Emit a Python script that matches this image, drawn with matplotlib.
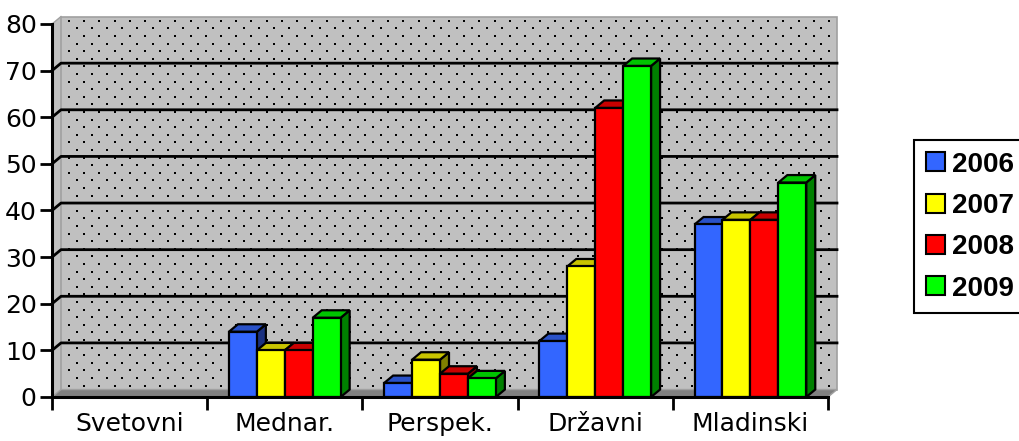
import numpy as np
import matplotlib
matplotlib.use('Agg')
from matplotlib import pyplot as plt
from matplotlib.patches import Polygon, Rectangle, Patch

categories = ['Svetovni', 'Mednar.', 'Perspek.', 'Državni', 'Mladinski']
years = ['2006', '2007', '2008', '2009']
v2006 = [0, 14, 3, 12, 37]
v2007 = [0, 10, 8, 28, 38]
v2008 = [0, 10, 5, 62, 38]
v2009 = [0, 17, 4, 71, 46]
series = [v2006, v2007, v2008, v2009]

# front, top, side shades
front = ['#3366ff', '#ffff00', '#ff0000', '#00ff00']
top = ['#2a52c8', '#c8c400', '#c80000', '#00c400']
side = ['#1a3080', '#808000', '#800000', '#008000']

ymax = 80
ncat = len(categories)
dx, dy = 0.058, 1.6   # depth of the 3d box in data units
bw = 0.18             # bar width in category units

fig = plt.figure(figsize=(10.2, 4.41), dpi=100)
ax = fig.add_axes([52/1020, 44/441, 776/1020, 373/441])
ax.set_xlim(0, ncat)
ax.set_ylim(0, ymax)

# walls and floor
ax.add_patch(Polygon([(0, 0), (dx, dy), (dx, ymax+dy), (0, ymax)], closed=True,
                     facecolor='#c0c0c0', edgecolor='none', clip_on=False, zorder=0))
ax.add_patch(Rectangle((dx, dy), ncat, ymax, facecolor='#c0c0c0',
                       edgecolor='#a0a0a0', linewidth=1.2, clip_on=False, zorder=0))

# dotted texture on the back wall (15px x 7.5px, staggered)
px_x = ncat / 776.0
px_y = ymax / 373.0
rows = np.arange(dy + 4*px_y, ymax + dy - 2*px_y, 7.6*px_y)
dxs, dys = [], []
for i, ry in enumerate(rows):
    off = 7.5*px_x if i % 2 else 0
    cols = np.arange(dx + 8*px_x + off, ncat + dx - 3*px_x, 15.2*px_x)
    dxs.extend(cols)
    dys.extend([ry]*len(cols))
ax.scatter(dxs, dys, s=1.6, marker='s', color='black', linewidths=0,
           clip_on=False, zorder=0.5)

ax.add_patch(Polygon([(0, 0), (ncat, 0), (ncat+dx, dy), (dx, dy)],
                     closed=True, facecolor='#808080', edgecolor='#a0a0a0', linewidth=1,
                     clip_on=False, zorder=0.7))

yt = np.arange(0, ymax+1, 10)
for y in yt[1:-1]:
    ax.plot([0, dx, ncat+dx], [y, y+dy, y+dy], color='black', lw=2,
            clip_on=False, zorder=1)
ax.plot([0, dx], [ymax, ymax+dy], color='#a0a0a0', lw=1, clip_on=False, zorder=1)

# 3d bars
z = 2
for c in range(ncat):
    x0 = c + 0.5 - 2*bw
    for s in range(len(series)):
        v = series[s][c]
        if v <= 0:
            continue
        x = x0 + s*bw
        ax.add_patch(Polygon([(x+bw, 0), (x+bw+dx, dy), (x+bw+dx, v+dy), (x+bw, v)],
                             closed=True, facecolor=side[s], edgecolor='black', lw=1.6,
                             clip_on=False, zorder=z))
        ax.add_patch(Polygon([(x, v), (x+dx, v+dy), (x+bw+dx, v+dy), (x+bw, v)],
                             closed=True, facecolor=top[s], edgecolor='black', lw=1.6,
                             clip_on=False, zorder=z))
        ax.bar(x, v, width=bw, align='edge', color=front[s], edgecolor='black',
               linewidth=1.6, zorder=z+0.5, clip_on=False)
        z += 1

for sp in ['top', 'right']:
    ax.spines[sp].set_visible(False)
for sp in ['left', 'bottom']:
    ax.spines[sp].set_linewidth(2.2)
    ax.spines[sp].set_zorder(50)

ax.set_yticks(yt)
ax.tick_params(axis='y', direction='out', length=9, width=2, labelsize=18, pad=2)
ax.set_xticks(np.arange(ncat+1))
ax.set_xticklabels([])
ax.tick_params(axis='x', which='major', direction='out', length=9, width=2)
ax.set_xticks(np.arange(ncat) + 0.5, minor=True)
ax.set_xticklabels(categories, minor=True)
ax.tick_params(axis='x', which='minor', length=0, labelsize=18, pad=11)

handles = [Patch(facecolor=front[i], edgecolor='black', linewidth=1.5, label=years[i])
           for i in range(len(years))]
leg = fig.legend(handles=handles, loc='upper left', bbox_to_anchor=(914/1020, 301/441),
                 frameon=True, fancybox=False, edgecolor='black', framealpha=1,
                 handlelength=0.68, handleheight=0.68, handletextpad=0.28,
                 labelspacing=0.55, borderpad=0.42, borderaxespad=0,
                 prop={'family': ['Liberation Sans', 'DejaVu Sans'], 'weight': 'bold',
                       'size': 20})
leg.get_frame().set_linewidth(1.5)

fig.savefig('out.png', dpi=100)
